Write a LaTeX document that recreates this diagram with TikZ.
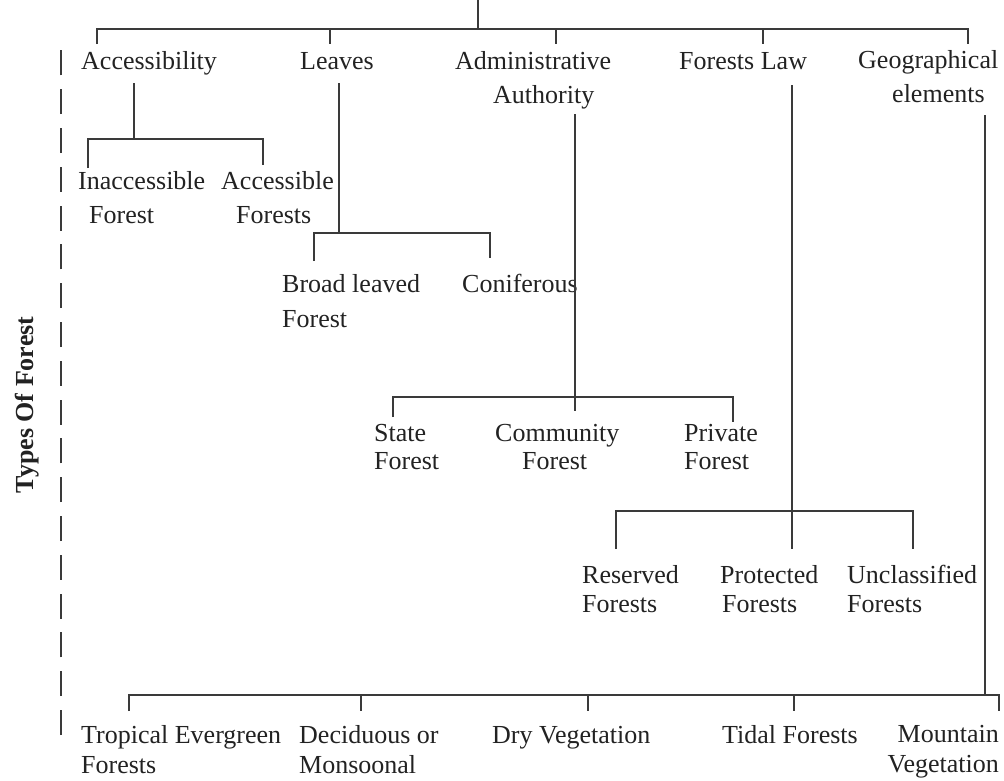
\documentclass[tikz,border=0pt]{standalone}
\usepackage{fontspec}
\setmainfont{Liberation Serif}
\definecolor{ln}{HTML}{3A3A3A}
\definecolor{tx}{HTML}{222222}
\begin{document}
\begin{tikzpicture}[x=1pt,y=-1pt,
  lbl/.style={inner sep=0pt, text=tx, font=\fontsize{26}{34}\selectfont, align=left, anchor=base west},
  conn/.style={draw=ln, line width=1.3pt},
  dashline/.style={draw=ln, line width=2.8pt, dash pattern=on 25pt off 13.8pt},
  title/.style={inner sep=0pt, text=tx, font=\fontsize{26}{30}\selectfont\bfseries, rotate=90, anchor=base}
]
\useasboundingbox (0,0) rectangle (1004,780);

% ---------- labels (base = baseline of last line) ----------
\node[lbl] (acc) at (81,69) {Accessibility};
\node[lbl] (lea) at (300,69) {Leaves};
\node[lbl] (adm) at (455,103) {Administrative\\\hspace*{38pt}Authority};
\node[lbl] (law) at (679,69) {Forests Law};
\node[lbl] (geo) at (858,102) {Geographical\\\hspace*{34pt}elements};
\node[lbl] (inacc) at (78,223) {Inaccessible\\\hspace*{11pt}Forest};
\node[lbl] (accf) at (221,223) {Accessible\\\hspace*{15pt}Forests};
\node[lbl, font=\fontsize{26}{35}\selectfont] (broad) at (282,327) {Broad leaved\\Forest};
\node[lbl] (conif) at (462,292) {Coniferous};
\node[lbl, font=\fontsize{26}{28}\selectfont] (state) at (374,469) {State\\Forest};
\node[lbl, font=\fontsize{26}{28}\selectfont] (comm) at (495,469) {Community\\\hspace*{27pt}Forest};
\node[lbl, font=\fontsize{26}{28}\selectfont] (priv) at (684,469) {Private\\Forest};
\node[lbl, font=\fontsize{26}{29}\selectfont] (res) at (582,612) {Reserved\\Forests};
\node[lbl, font=\fontsize{26}{29}\selectfont] (prot) at (720,612) {Protected\\\hspace*{2pt}Forests};
\node[lbl, font=\fontsize{26}{29}\selectfont] (uncl) at (847,612) {Unclassified\\Forests};
\node[lbl, font=\fontsize{26}{30}\selectfont] (trop) at (81,773) {Tropical Evergreen\\Forests};
\node[lbl, font=\fontsize{26}{30}\selectfont] (decid) at (299,773) {Deciduous or\\Monsoonal};
\node[lbl] (dry) at (492,743) {Dry Vegetation};
\node[lbl] (tidal) at (722,743) {Tidal Forests};
\node[lbl, font=\fontsize{26}{30}\selectfont, align=right, anchor=base east] (mount) at (999,772) {Mountain\\Vegetation};

\node[title] (ttl) at (33,405) {Types Of Forest};

% ---------- dashed line ----------
\coordinate (d0) at (61,735);
\coordinate (d1) at (61,49);
\draw[dashline] (d0) -- (d1);

% ---------- top bracket ----------
\coordinate (bt) at (478,0);  \coordinate (bj) at (478,29);
\coordinate (b1) at (97,29);  \coordinate (e1) at (97,44);
\coordinate (b2) at (330,29); \coordinate (e2) at (330,44);
\coordinate (b3) at (556,29); \coordinate (e3) at (556,44);
\coordinate (b4) at (763,29); \coordinate (e4) at (763,44);
\coordinate (b5) at (968,29); \coordinate (e5) at (968,44);
\draw[conn] (bt) -- (bj);
\draw[conn] (e1) -- (b1) -- (b5) -- (e5);
\draw[conn] (b2) -- (e2);
\draw[conn] (b3) -- (e3);
\draw[conn] (b4) -- (e4);

% ---------- Accessibility ----------
\coordinate (a0) at (134,83);  \coordinate (a1) at (134,139);
\coordinate (al) at (88,139);  \coordinate (ale) at (88,168);
\coordinate (ar) at (263,139); \coordinate (are) at (263,165);
\draw[conn] (a0) -- (a1);
\draw[conn] (ale) -- (al) -- (ar) -- (are);

% ---------- Leaves ----------
\coordinate (l0) at (339,83);  \coordinate (l1) at (339,233);
\coordinate (ll) at (314,233); \coordinate (lle) at (314,261);
\coordinate (lr) at (490,233); \coordinate (lre) at (490,258);
\draw[conn] (l0) -- (l1);
\draw[conn] (lle) -- (ll) -- (lr) -- (lre);

% ---------- Administrative Authority ----------
\coordinate (m0) at (575,114); \coordinate (m1) at (575,411);
\coordinate (ml) at (393,397); \coordinate (mle) at (393,417);
\coordinate (mr) at (733,397); \coordinate (mre) at (733,422);
\draw[conn] (m0) -- (m1);
\draw[conn] (mle) -- (ml) -- (mr) -- (mre);

% ---------- Forests Law ----------
\coordinate (f0) at (792,85);  \coordinate (f1) at (792,549);
\coordinate (fl) at (616,511); \coordinate (fle) at (616,549);
\coordinate (fr) at (913,511); \coordinate (fre) at (913,549);
\draw[conn] (f0) -- (f1);
\draw[conn] (fle) -- (fl) -- (fr) -- (fre);

% ---------- Geographical elements ----------
\coordinate (g0) at (985,115); \coordinate (g1) at (985,695);
\coordinate (gl) at (129,695); \coordinate (gle) at (129,711);
\coordinate (gr) at (999,695); \coordinate (gre) at (999,711);
\coordinate (g2) at (361,695); \coordinate (g2e) at (361,711);
\coordinate (g3) at (588,695); \coordinate (g3e) at (588,711);
\coordinate (g4) at (794,695); \coordinate (g4e) at (794,711);
\draw[conn] (g0) -- (g1);
\draw[conn] (gle) -- (gl) -- (gr) -- (gre);
\draw[conn] (g2) -- (g2e);
\draw[conn] (g3) -- (g3e);
\draw[conn] (g4) -- (g4e);
\end{tikzpicture}
\end{document}
